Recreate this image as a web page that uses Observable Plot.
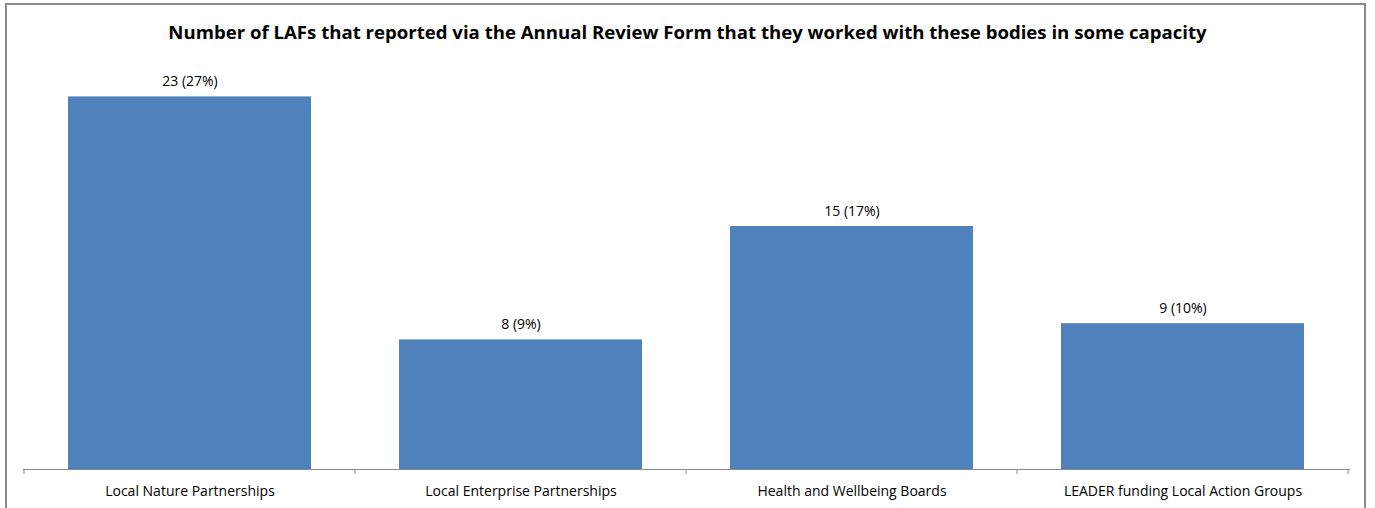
<!DOCTYPE html>
<html>
<head>
<meta charset="utf-8">
<script src="https://cdn.jsdelivr.net/npm/d3@7"></script>
<script src="https://cdn.jsdelivr.net/npm/@observablehq/plot@0.6"></script>
<style>
  html, body { margin: 0; padding: 0; background: #fff; }
  #wrap { position: relative; width: 1375px; height: 508px; overflow: hidden; background: #fff; }
  #frame { position: absolute; left: 5px; top: 3px; width: 1361px; height: 530px; border: 2px solid #8a8a8a; box-sizing: border-box; }
  #title { position: absolute; left: 0; top: 19px; width: 1375px; text-align: center; font-family: "Open Sans", sans-serif; font-weight: bold; font-size: 18.6px; color: #000; }
  #chart { position: absolute; left: 0; top: 0; }
</style>
</head>
<body>
<div id="wrap">
  <div id="frame"></div>
  <div id="chart"></div>
  <div id="title">Number of LAFs that reported via the Annual Review Form that they worked with these bodies in some capacity</div>
</div>
<script>
const categories = ["Local Nature Partnerships", "Local Enterprise Partnerships", "Health and Wellbeing Boards", "LEADER funding Local Action Groups"];
const counts = [23, 8, 15, 9];
const percents = [27, 9, 17, 10];

const data = categories.map((c, i) => ({category: c, count: counts[i], label: `${counts[i]} (${percents[i]}%)`}));

// boundary tick marks between categories, computed from the band scale
function boundaryTicks(index, scales, values, dimensions) {
  const x = scales.x;
  const half = (x.step() - x.bandwidth()) / 2;
  const y0 = dimensions.height - dimensions.marginBottom;
  const g = d3.create("svg:g").attr("stroke", "#8a8a8a").attr("stroke-width", 1);
  const edges = categories.map(c => x(c) - half);
  edges.push(x(categories[categories.length - 1]) + x.bandwidth() + half);
  for (const e of edges) {
    g.append("line").attr("x1", e).attr("x2", e).attr("y1", y0).attr("y2", y0 + 5);
  }
  return g.node();
}

const chart = Plot.plot({
  width: 1375,
  height: 508,
  marginTop: 64,
  marginBottom: 39,
  marginLeft: 23,
  marginRight: 25,
  style: {fontFamily: "'Open Sans', sans-serif", fontSize: "14px", color: "#000", background: "transparent"},
  x: {domain: categories, paddingInner: 0.265, paddingOuter: 0.1325, label: null},
  y: {domain: [0, 25], axis: null},
  marks: [
    Plot.barY(data, {x: "category", y: "count", fill: "#4F81BD"}),
    Plot.ruleY([0], {stroke: "#8a8a8a", strokeWidth: 1}),
    boundaryTicks,
    Plot.text(data, {x: "category", y: "count", text: "label", dy: -15, fill: "#000", fontSize: 14, lineAnchor: "middle"}),
    Plot.axisX({tickSize: 0, tickPadding: 17, label: null, fontSize: 14, fill: "#000"})
  ]
});
document.getElementById("chart").appendChild(chart);
</script>
</body>
</html>
